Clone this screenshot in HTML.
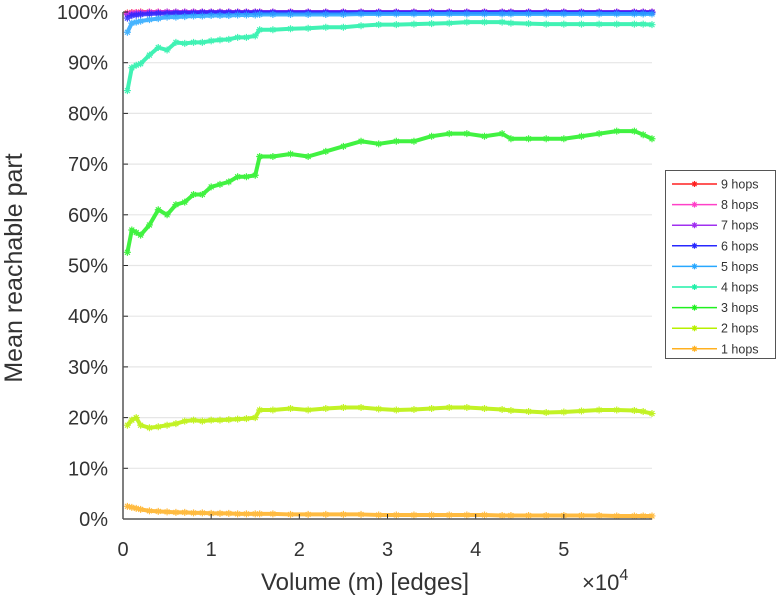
<!DOCTYPE html>
<html><head><meta charset="utf-8"><style>
body{margin:0;background:#fff;}
svg{display:block;font-family:"Liberation Sans",sans-serif;}
</style></head><body>
<svg id="chart" width="781" height="600" viewBox="0 0 781 600">
<g id="grid"></g>
<g id="series"></g>
<g id="axes"></g>
<text x="365" y="590" font-size="24" text-anchor="middle" fill="#333">Volume (m) [edges]</text>
<text x="582" y="590" font-size="22" fill="#333">×10<tspan dy="-10" font-size="16">4</tspan></text>
<text transform="translate(22,268) rotate(-90)" font-size="25" text-anchor="middle" fill="#333">Mean reachable part</text>
<g id="legend"></g>
</svg>
<script>
const xTicks=[0,1,2,3,4,5];
const yTicks=[0,10,20,30,40,50,60,70,80,90,100];
const seriesNames=["9 hops","8 hops","7 hops","6 hops","5 hops","4 hops","3 hops","2 hops","1 hops"];
const seriesColors=["#ff2020","#ff40c8","#a030f0","#2828ff","#28a8ff","#20f0a8","#20f020","#b8f000","#ffb020"];
const xs=[0.05,0.1,0.15,0.2,0.3,0.4,0.5,0.6,0.7,0.8,0.9,1.0,1.1,1.2,1.3,1.4,1.5,1.55,1.7,1.9,2.1,2.3,2.5,2.7,2.9,3.1,3.3,3.5,3.7,3.9,4.1,4.3,4.4,4.6,4.8,5.0,5.2,5.4,5.6,5.8,5.9,6.0];
const hops9=[99.8,99.9,99.9,100,100,100,100,100,100,100,100,100,100,100,100,100,100,100,100,100,100,100,100,100,100,100,100,100,100,100,100,100,100,100,100,100,100,100,100,100,100,100];
const hops8=[99.7,99.8,99.9,99.9,100,100,100,100,100,100,100,100,100,100,100,100,100,100,100,100,100,100,100,100,100,100,100,100,100,100,100,100,100,100,100,100,100,100,100,100,100,100];
const hops7=[99.5,99.6,99.7,99.8,99.9,99.9,100,100,100,100,100,100,100,100,100,100,100,100,100,100,100,100,100,100,100,100,100,100,100,100,100,100,100,100,100,100,100,100,100,100,100,100];
const hops6=[98.8,99.3,99.4,99.5,99.6,99.7,99.7,99.8,99.8,99.8,99.9,99.9,99.9,99.9,99.9,99.9,99.9,99.9,99.9,99.9,99.9,99.9,99.9,99.9,99.9,99.9,99.9,99.9,99.9,99.9,99.9,99.9,99.9,99.9,99.9,99.9,99.9,99.9,99.9,99.9,99.9,99.9];
const hops5=[96,97.8,98,98.2,98.5,98.7,99,99,99.1,99.2,99.2,99.3,99.3,99.3,99.4,99.4,99.4,99.5,99.5,99.5,99.5,99.5,99.5,99.6,99.6,99.6,99.6,99.6,99.6,99.6,99.6,99.6,99.6,99.6,99.6,99.6,99.6,99.6,99.6,99.6,99.6,99.6];
const hops4=[84.5,89,89.5,89.8,91.5,93,92.5,94,93.8,94,94,94.3,94.5,94.6,95,95,95.3,96.5,96.5,96.7,96.8,97,97,97.3,97.5,97.5,97.6,97.7,97.8,98,98,98,97.8,97.7,97.6,97.6,97.6,97.6,97.6,97.6,97.6,97.5];
const hops3=[52.6,57,56.5,56,58,61,60,62,62.5,64,64,65.5,66,66.5,67.5,67.5,67.8,71.5,71.5,72,71.5,72.5,73.5,74.5,74,74.5,74.5,75.5,76,76,75.5,76,75,75,75,75,75.5,76,76.5,76.5,75.8,75];
const hops2=[18.5,19.5,20,18.5,18,18.2,18.5,18.8,19.3,19.5,19.3,19.5,19.5,19.6,19.7,19.8,20,21.5,21.5,21.8,21.5,21.8,22,22,21.7,21.5,21.6,21.8,22,22,21.8,21.6,21.4,21.2,21,21.1,21.3,21.5,21.5,21.4,21.2,20.8];
const hops1=[2.5,2.3,2.1,1.9,1.6,1.5,1.4,1.3,1.3,1.2,1.2,1.1,1.1,1.1,1.0,1.0,1.0,1.0,1.0,0.9,0.9,0.9,0.9,0.9,0.8,0.8,0.8,0.8,0.8,0.8,0.8,0.7,0.7,0.7,0.7,0.7,0.7,0.7,0.6,0.6,0.6,0.6];
const allSeries=[hops9,hops8,hops7,hops6,hops5,hops4,hops3,hops2,hops1];

const NS="http://www.w3.org/2000/svg";
const X0=123,X1=652,Y0=519,Y1=12,XMAX=6.0;
function sx(v){return X0+v/XMAX*(X1-X0);}
function sy(v){return Y0-v/100*(Y0-Y1);}
function mk(tag,attrs,parent){const e=document.createElementNS(NS,tag);for(const k in attrs)e.setAttribute(k,attrs[k]);parent.appendChild(e);return e;}

const grid=document.getElementById('grid');
const axes=document.getElementById('axes');
yTicks.forEach(t=>{
  if(t>0){const g=mk('line',{x1:X0,x2:X1,y1:sy(t),y2:sy(t),stroke:'#e6e6e6','stroke-width':1.2},grid);
  
  }
  const tk=mk('line',{x1:X0,x2:X0+5,y1:sy(t),y2:sy(t),stroke:'#262626','stroke-width':1},axes);
  
  
  const lb=mk('text',{x:108,y:sy(t)+7,'font-size':20,'text-anchor':'end',fill:'#333'},axes);
  lb.textContent=t+'%';
  
  
});
xTicks.forEach(t=>{
  const tk=mk('line',{x1:sx(t),x2:sx(t),y1:Y0,y2:Y0-5,stroke:'#262626','stroke-width':1},axes);
  
  
  const lb=mk('text',{x:sx(t),y:556,'font-size':20,'text-anchor':'middle',fill:'#333'},axes);
  lb.textContent=t;
  
  
});
const ya=mk('line',{x1:X0,x2:X0,y1:Y1,y2:Y0,stroke:'#555','stroke-width':1.5},axes);


const xa=mk('line',{x1:X0,x2:X1,y1:Y0,y2:Y0,stroke:'#555','stroke-width':1.5},axes);



function star(parent,x,y,c,r){
  mk('path',{d:`M${x-r},${y}H${x+r}M${x},${y-r}V${y+r}M${x-r*0.7},${y-r*0.7}L${x+r*0.7},${y+r*0.7}M${x-r*0.7},${y+r*0.7}L${x+r*0.7},${y-r*0.7}`,stroke:c,'stroke-width':1.2,fill:'none'},parent);
}
const sg=document.getElementById('series');
for(let i=0;i<allSeries.length;i++){
  const vals=allSeries[i],c=seriesColors[i];
  const g=mk('g',{opacity:0.85},sg);
  
  
  const pts=vals.map((v,j)=>sx(xs[j])+','+sy(v)).join(' ');
  mk('polyline',{points:pts,fill:'none',stroke:c,'stroke-width':4,'stroke-linejoin':'round'},g);
  vals.forEach((v,j)=>star(g,sx(xs[j]),sy(v),c,3.5));
}

const lg=document.getElementById('legend');
const lb=mk('rect',{x:665.5,y:170.5,width:110,height:188,fill:'#fff',stroke:'#555','stroke-width':1},lg);


seriesNames.forEach((n,i)=>{
  const y=184+i*20.6,c=seriesColors[i];
  const g=mk('g',{},lg);
  
  
  mk('line',{x1:672,x2:717,y1:y,y2:y,stroke:c,'stroke-width':1.5},g);
  star(g,694.5,y,c,3);
  const t=mk('text',{x:721,y:y+4.5,'font-size':12.5,fill:'#333'},g);
  t.textContent=n;
});
</script>
</body></html>
